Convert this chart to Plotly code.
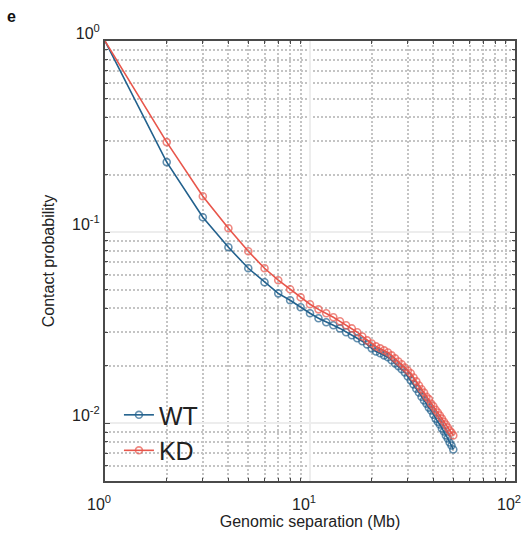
import plotly.graph_objects as go

# Genomic separation (Mb)
separation = list(range(1, 51))

wt = [1.0, 0.2326, 0.1198, 0.0834, 0.0648, 0.0547, 0.0479, 0.0441, 0.0405, 0.0377,
      0.0355, 0.0338, 0.0326, 0.0314, 0.0300, 0.0289, 0.0279, 0.0269, 0.0259, 0.0247,
      0.0238, 0.0233, 0.0227, 0.0222, 0.0214, 0.0206, 0.0199, 0.0192, 0.0185, 0.0176,
      0.0168, 0.0160, 0.0152, 0.0145, 0.0138, 0.0132, 0.0127, 0.0121, 0.0117, 0.0111,
      0.0106, 0.0102, 0.00988, 0.00941, 0.00908, 0.00866, 0.00835, 0.00795, 0.00767, 0.00731]

kd = [1.0, 0.296, 0.1543, 0.1049, 0.0795, 0.0648, 0.0561, 0.0503, 0.0457, 0.0420,
      0.0395, 0.0377, 0.0359, 0.0342, 0.0326, 0.0314, 0.0300, 0.0285, 0.0272, 0.0262,
      0.0253, 0.0247, 0.0241, 0.0235, 0.0227, 0.0219, 0.0211, 0.0204, 0.0196, 0.0189,
      0.0183, 0.0174, 0.0166, 0.0158, 0.0151, 0.0145, 0.0138, 0.0134, 0.0127, 0.0123,
      0.0118, 0.0114, 0.0110, 0.0106, 0.0102, 0.00988, 0.00953, 0.00919, 0.00897, 0.00866]

x_ticks = [1, 10, 100]
x_ticktext = ["10<sup>0</sup>", "10<sup>1</sup>", "10<sup>2</sup>"]
y_ticks = [0.01, 0.1, 1]
y_ticktext = ["10<sup>-2</sup>", "10<sup>-1</sup>", "10<sup>0</sup>"]

x_minor = [m * d for d in (1, 10) for m in range(2, 10)]
y_minor = [m * d for d in (0.001, 0.01, 0.1) for m in range(2, 10) if m * d >= 0.005]

series = [("WT", wt, "#22618d"), ("KD", kd, "#e8564b")]

FONT = "Arial, Liberation Sans, sans-serif"
fig = go.Figure()
for name, vals, color in series:
    sizes = [0] + [7] * (len(vals) - 1)
    fig.add_trace(go.Scatter(
        x=separation, y=vals, name=name, mode="lines+markers",
        line=dict(color=color, width=1.6),
        marker=dict(symbol="circle-open", size=sizes, color=color, line=dict(width=1.6)),
    ))

axis_common = dict(
    type="log", showline=True, mirror="allticks", linecolor="#4a4a4a", linewidth=2,
    tickwidth=1,
    showgrid=True, gridcolor="#ededed", gridwidth=2, zeroline=False, automargin=False,
    tickfont=dict(family=FONT, size=16, color="#222"),
)

fig.update_xaxes(
    **axis_common, range=[0, 2], tickvals=x_ticks, ticktext=x_ticktext,
    ticks="outside", ticklen=8, tickcolor="rgba(0,0,0,0)", ticklabelshift=-6,
    minor=dict(tickvals=x_minor, showgrid=True, gridcolor="#c4c4c4", griddash="2px,2px",
               gridwidth=1.5, ticks="inside", ticklen=3, tickcolor="#4a4a4a"),
    title=dict(text="Genomic separation (Mb)", font=dict(family=FONT, size=16, color="#222"), standoff=3),
)
fig.update_yaxes(
    **axis_common, range=[-2.30103, 0], tickvals=y_ticks, ticktext=y_ticktext,
    ticks="inside", ticklen=5, tickcolor="#4a4a4a", ticklabelshift=-8,
    minor=dict(tickvals=y_minor, showgrid=True, gridcolor="#c4c4c4", griddash="2px,2px",
               gridwidth=1.5, ticks="inside", ticklen=3, tickcolor="#4a4a4a"),
    title=dict(text="Contact probability", font=dict(family=FONT, size=16, color="#222"), standoff=13),
)

fig.update_layout(
    width=522, height=545,
    margin=dict(l=105, r=7, t=41, b=64),
    paper_bgcolor="white", plot_bgcolor="white",
    font=dict(family=FONT, color="#222"),
    legend=dict(x=0.034, y=0.018, xanchor="left", yanchor="bottom", bgcolor="rgba(0,0,0,0)",
                font=dict(family=FONT, size=25, color="#222"), tracegroupgap=0),
    showlegend=True,
    annotations=[dict(text="<b>e</b>", x=-0.245, y=1.055, xref="paper", yref="paper",
                      xanchor="left", yanchor="middle", showarrow=False,
                      font=dict(family=FONT, size=16, color="#111"))],
)

fig.write_html("out.html", config={"displayModeBar": False},
               post_script="document.body.style.margin='0';document.body.style.padding='0';")
